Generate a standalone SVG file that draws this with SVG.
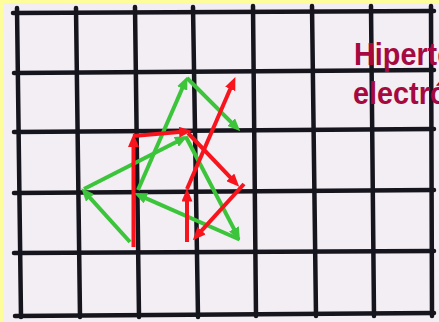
<svg xmlns="http://www.w3.org/2000/svg" width="439" height="322" viewBox="0 0 439 322">
<style>
.grid line{stroke:#16141c;stroke-width:4.5;stroke-linecap:round}
.g{stroke:#3cc43a;stroke-width:4;fill:none}
.r{stroke:#f8141c;stroke-width:4;fill:none}
.t{font-family:"Liberation Sans",Arial,sans-serif;font-weight:bold;font-size:32px;fill:#a5093f}
</style>
<defs>
<marker id="ag" markerUnits="userSpaceOnUse" markerWidth="13" markerHeight="11" refX="6" refY="5.5" orient="auto" viewBox="0 0 13 11"><path d="M0,0 L13,5.5 L0,11 z" fill="#3cc43a"/></marker>
<marker id="ar" markerUnits="userSpaceOnUse" markerWidth="13" markerHeight="11" refX="6" refY="5.5" orient="auto" viewBox="0 0 13 11"><path d="M0,0 L13,5.5 L0,11 z" fill="#f8141c"/></marker>
</defs>
<rect x="0" y="0" width="439" height="322" fill="#f2eef4"/>
<rect x="0" y="0" width="439" height="3" fill="#fdfd9c"/>
<rect x="0" y="0" width="4" height="322" fill="#fdfd9c"/>
<g id="grid" class="grid">
<line x1="17" y1="8" x2="21" y2="317"/>
<line x1="76" y1="8" x2="80" y2="317"/>
<line x1="135" y1="7" x2="139" y2="317"/>
<line x1="193" y1="7" x2="198" y2="317"/>
<line x1="253" y1="6" x2="256" y2="316"/>
<line x1="312" y1="6" x2="316" y2="316"/>
<line x1="371" y1="6" x2="374" y2="316"/>
<line x1="431" y1="6" x2="432" y2="316"/>
<line x1="13" y1="13" x2="434" y2="11"/>
<line x1="14" y1="73" x2="434" y2="70"/>
<line x1="14" y1="132" x2="434" y2="129"/>
<line x1="14" y1="193" x2="434" y2="190"/>
<line x1="14" y1="253" x2="434" y2="251"/>
<line x1="15" y1="316" x2="434" y2="313"/>
</g>
<g id="title">
<text class="t" transform="translate(354,65) scale(0.9,1)">Hiperte</text>
<text class="t" transform="translate(353,104) scale(0.9,1)">electró</text>
</g>
<g id="connectors">
<line class="g" x1="130" y1="242" x2="86" y2="193.4" marker-end="url(#ag)"/>
<line class="g" x1="84" y1="189" x2="181.6" y2="139.2" marker-end="url(#ag)"/>
<line class="g" x1="138" y1="190" x2="184.6" y2="83" marker-end="url(#ag)"/>
<line class="g" x1="187" y1="78" x2="235.3" y2="126.3" marker-end="url(#ag)"/>
<line class="g" x1="186" y1="137" x2="236.7" y2="234.2" marker-end="url(#ag)"/>
<line class="g" x1="239.5" y1="239.5" x2="140.5" y2="195.9" marker-end="url(#ag)"/>
<line class="r" x1="133.5" y1="247" x2="133.5" y2="141" marker-end="url(#ar)"/>
<line class="r" x1="133" y1="136" x2="185" y2="131.6" marker-end="url(#ar)"/>
<line class="r" x1="188" y1="133" x2="234.4" y2="181.7" marker-end="url(#ar)"/>
<line class="r" x1="244" y1="184" x2="197.5" y2="235.1" marker-end="url(#ar)"/>
<line class="r" x1="187" y1="242" x2="187" y2="195.5" marker-end="url(#ar)"/>
<line class="r" x1="187" y1="189" x2="232.6" y2="83.5" marker-end="url(#ar)"/>
</g>
</svg>
